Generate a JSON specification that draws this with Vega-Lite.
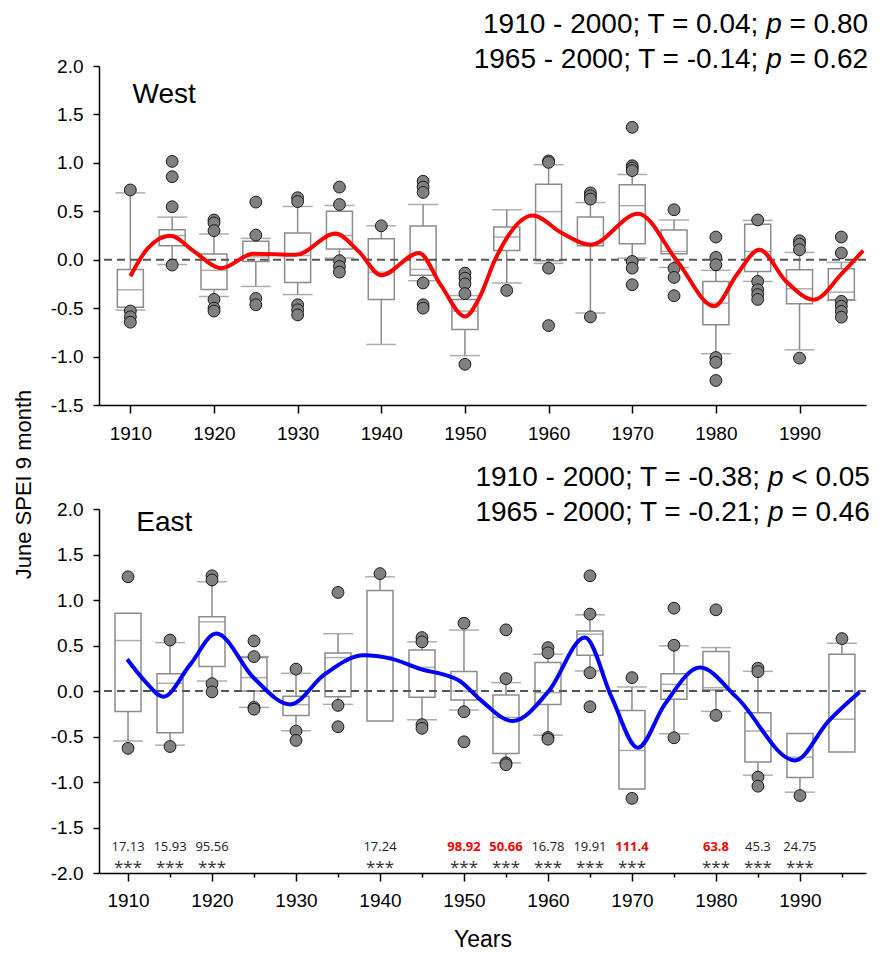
{
  "$schema": "https://vega.github.io/schema/vega-lite/v6.json",
  "padding": {"left": 12, "top": 10, "right": 2, "bottom": 2},
  "spacing": 104,
  "bounds": "flush",
  "config": {
    "view": {"stroke": null},
    "font": "Liberation Sans",
    "axis": {
      "grid": false,
      "domainColor": "#000000",
      "domainWidth": 1.5,
      "tickColor": "#000000",
      "tickWidth": 1.5,
      "labelColor": "#000000",
      "labelFont": "Liberation Sans",
      "labelFontSize": 19,
      "titleFont": "Liberation Sans",
      "titleFontSize": 23,
      "titleFontWeight": "normal",
      "titleColor": "#000000"
    },
    "text": {"font": "Liberation Sans"}
  },
  "datasets": {
    "zero": [{"v": 0}],
    "westBox": [
      {"yr": 1910, "lo": -0.52, "q1": -0.49, "med": -0.31, "q3": -0.10, "hi": 0.69},
      {"yr": 1915, "lo": -0.05, "q1": 0.145, "med": 0.25, "q3": 0.31, "hi": 0.44},
      {"yr": 1920, "lo": -0.38, "q1": -0.307, "med": -0.11, "q3": 0.058, "hi": 0.265},
      {"yr": 1925, "lo": -0.276, "q1": -0.018, "med": 0.03, "q3": 0.19, "hi": 0.22},
      {"yr": 1930, "lo": -0.36, "q1": -0.235, "med": 0.044, "q3": 0.275, "hi": 0.55},
      {"yr": 1935, "lo": 0.017, "q1": 0.11, "med": 0.25, "q3": 0.50, "hi": 0.56},
      {"yr": 1940, "lo": -0.875, "q1": -0.41, "med": -0.128, "q3": 0.217, "hi": 0.35},
      {"yr": 1945, "lo": -0.217, "q1": -0.16, "med": -0.10, "q3": 0.347, "hi": 0.57},
      {"yr": 1950, "lo": -0.99, "q1": -0.72, "med": -0.53, "q3": -0.41, "hi": -0.37},
      {"yr": 1955, "lo": -0.24, "q1": 0.096, "med": 0.234, "q3": 0.337, "hi": 0.516},
      {"yr": 1960, "lo": -0.038, "q1": -0.01, "med": 0.496, "q3": 0.78, "hi": 0.98},
      {"yr": 1965, "lo": -0.55, "q1": 0.145, "med": 0.17, "q3": 0.44, "hi": 0.59},
      {"yr": 1970, "lo": 0.017, "q1": 0.165, "med": 0.558, "q3": 0.775, "hi": 0.88},
      {"yr": 1975, "lo": -0.08, "q1": 0.062, "med": 0.086, "q3": 0.306, "hi": 0.41},
      {"yr": 1980, "lo": -0.97, "q1": -0.672, "med": -0.448, "q3": -0.224, "hi": -0.11},
      {"yr": 1985, "lo": -0.224, "q1": -0.121, "med": 0.086, "q3": 0.365, "hi": 0.406},
      {"yr": 1990, "lo": -0.93, "q1": -0.455, "med": -0.30, "q3": -0.103, "hi": 0.075},
      {"yr": 1995, "lo": -0.42, "q1": -0.413, "med": -0.335, "q3": -0.093, "hi": -0.028}
    ],
    "westPts": [
      {"yr": 1910, "v": 0.72}, {"yr": 1910, "v": -0.53}, {"yr": 1910, "v": -0.59}, {"yr": 1910, "v": -0.645},
      {"yr": 1915, "v": 1.015}, {"yr": 1915, "v": 0.857}, {"yr": 1915, "v": 0.547}, {"yr": 1915, "v": -0.055},
      {"yr": 1920, "v": 0.41}, {"yr": 1920, "v": 0.38}, {"yr": 1920, "v": 0.30}, {"yr": 1920, "v": -0.41}, {"yr": 1920, "v": -0.50}, {"yr": 1920, "v": -0.53},
      {"yr": 1925, "v": 0.595}, {"yr": 1925, "v": 0.254}, {"yr": 1925, "v": -0.40}, {"yr": 1925, "v": -0.465},
      {"yr": 1930, "v": 0.64}, {"yr": 1930, "v": 0.60}, {"yr": 1930, "v": -0.465}, {"yr": 1930, "v": -0.517}, {"yr": 1930, "v": -0.57},
      {"yr": 1935, "v": 0.75}, {"yr": 1935, "v": 0.57}, {"yr": 1935, "v": -0.01}, {"yr": 1935, "v": -0.07}, {"yr": 1935, "v": -0.128},
      {"yr": 1940, "v": 0.35},
      {"yr": 1945, "v": 0.81}, {"yr": 1945, "v": 0.75}, {"yr": 1945, "v": 0.695}, {"yr": 1945, "v": -0.24}, {"yr": 1945, "v": -0.465}, {"yr": 1945, "v": -0.50},
      {"yr": 1950, "v": -0.138}, {"yr": 1950, "v": -0.19}, {"yr": 1950, "v": -0.25}, {"yr": 1950, "v": -0.35}, {"yr": 1950, "v": -1.08},
      {"yr": 1955, "v": -0.317},
      {"yr": 1960, "v": 1.02}, {"yr": 1960, "v": 1.005}, {"yr": 1960, "v": -0.087}, {"yr": 1960, "v": -0.68},
      {"yr": 1965, "v": 0.69}, {"yr": 1965, "v": 0.66}, {"yr": 1965, "v": 0.626}, {"yr": 1965, "v": -0.59},
      {"yr": 1970, "v": 1.367}, {"yr": 1970, "v": 0.97}, {"yr": 1970, "v": 0.946}, {"yr": 1970, "v": 0.92}, {"yr": 1970, "v": -0.018}, {"yr": 1970, "v": -0.087}, {"yr": 1970, "v": -0.258},
      {"yr": 1975, "v": 0.516}, {"yr": 1975, "v": -0.09}, {"yr": 1975, "v": -0.183}, {"yr": 1975, "v": -0.372},
      {"yr": 1980, "v": 0.234}, {"yr": 1980, "v": 0.024}, {"yr": 1980, "v": -0.052}, {"yr": 1980, "v": -1.01}, {"yr": 1980, "v": -1.06}, {"yr": 1980, "v": -1.247},
      {"yr": 1985, "v": 0.41}, {"yr": 1985, "v": -0.224}, {"yr": 1985, "v": -0.31}, {"yr": 1985, "v": -0.36}, {"yr": 1985, "v": -0.41},
      {"yr": 1990, "v": 0.196}, {"yr": 1990, "v": 0.16}, {"yr": 1990, "v": 0.103}, {"yr": 1990, "v": -1.016},
      {"yr": 1995, "v": 0.234}, {"yr": 1995, "v": 0.07}, {"yr": 1995, "v": -0.43}, {"yr": 1995, "v": -0.48}, {"yr": 1995, "v": -0.534}, {"yr": 1995, "v": -0.593}
    ],
    "westCurve": [
      {"yr": 1910.0, "v": -0.17}, {"yr": 1912.1, "v": 0.12}, {"yr": 1914.8, "v": 0.247},
      {"yr": 1917.6, "v": 0.086}, {"yr": 1920.9, "v": -0.087}, {"yr": 1924.7, "v": 0.062},
      {"yr": 1929.8, "v": 0.05}, {"yr": 1934.5, "v": 0.27}, {"yr": 1937.3, "v": 0.086},
      {"yr": 1940.0, "v": -0.16}, {"yr": 1944.5, "v": 0.07}, {"yr": 1947.1, "v": -0.26},
      {"yr": 1950.0, "v": -0.586}, {"yr": 1951.8, "v": -0.38}, {"yr": 1953.6, "v": 0.0},
      {"yr": 1958.1, "v": 0.457}, {"yr": 1961.6, "v": 0.275}, {"yr": 1965.0, "v": 0.155},
      {"yr": 1970.7, "v": 0.475}, {"yr": 1975.4, "v": -0.018}, {"yr": 1979.8, "v": -0.48},
      {"yr": 1982.5, "v": -0.155}, {"yr": 1985.2, "v": 0.103}, {"yr": 1988.4, "v": -0.224},
      {"yr": 1991.7, "v": -0.413}, {"yr": 1995.1, "v": -0.138}, {"yr": 1997.6, "v": 0.093}
    ],
    "westHead": [
      {"yr": 1998.2, "v": 2.341, "a": "1910 - 2000; T = 0.04;", "c": "= 0.80"},
      {"yr": 1998.2, "v": 1.979, "a": "1965 - 2000; T = -0.14;", "c": "= 0.62"}
    ],
    "westLab": [{"yr": 1910.27, "v": 1.615, "t": "West"}],
    "eastBox": [
      {"yr": 1910, "lo": -0.55, "q1": -0.224, "med": 0.554, "q3": 0.855, "hi": 0.855},
      {"yr": 1915, "lo": -0.595, "q1": -0.46, "med": 0.085, "q3": 0.19, "hi": 0.532},
      {"yr": 1920, "lo": 0.11, "q1": 0.27, "med": 0.76, "q3": 0.815, "hi": 1.2},
      {"yr": 1925, "lo": -0.18, "q1": 0.0, "med": 0.147, "q3": 0.367, "hi": 0.378},
      {"yr": 1930, "lo": -0.437, "q1": -0.268, "med": -0.15, "q3": -0.059, "hi": 0.194},
      {"yr": 1935, "lo": -0.147, "q1": -0.062, "med": 0.367, "q3": 0.418, "hi": 0.63},
      {"yr": 1940, "lo": -0.33, "q1": -0.33, "med": 0.38, "q3": 1.105, "hi": 1.255},
      {"yr": 1945, "lo": -0.316, "q1": -0.07, "med": 0.26, "q3": 0.45, "hi": 0.54},
      {"yr": 1950, "lo": -0.209, "q1": -0.1, "med": 0.0, "q3": 0.213, "hi": 0.67},
      {"yr": 1955, "lo": -0.79, "q1": -0.686, "med": -0.29, "q3": -0.044, "hi": 0.092},
      {"yr": 1960, "lo": -0.485, "q1": -0.147, "med": -0.018, "q3": 0.312, "hi": 0.404},
      {"yr": 1965, "lo": 0.22, "q1": 0.393, "med": 0.624, "q3": 0.66, "hi": 0.837},
      {"yr": 1970, "lo": -1.076, "q1": -1.076, "med": -0.653, "q3": -0.213, "hi": 0.044},
      {"yr": 1975, "lo": -0.47, "q1": -0.092, "med": 0.073, "q3": 0.19, "hi": 0.496},
      {"yr": 1980, "lo": -0.224, "q1": 0.011, "med": 0.037, "q3": 0.433, "hi": 0.477},
      {"yr": 1985, "lo": -0.925, "q1": -0.78, "med": -0.44, "q3": -0.239, "hi": 0.216},
      {"yr": 1990, "lo": -1.112, "q1": -0.95, "med": -0.727, "q3": -0.466, "hi": -0.466},
      {"yr": 1995, "lo": -0.67, "q1": -0.67, "med": -0.31, "q3": 0.405, "hi": 0.525}
    ],
    "eastPts": [
      {"yr": 1910, "v": 1.255}, {"yr": 1910, "v": -0.63},
      {"yr": 1915, "v": 0.56}, {"yr": 1915, "v": -0.61},
      {"yr": 1920, "v": 1.266}, {"yr": 1920, "v": 1.22}, {"yr": 1920, "v": 0.08}, {"yr": 1920, "v": -0.01},
      {"yr": 1925, "v": 0.55}, {"yr": 1925, "v": 0.378}, {"yr": 1925, "v": -0.18}, {"yr": 1925, "v": -0.2},
      {"yr": 1930, "v": 0.24}, {"yr": 1930, "v": -0.44}, {"yr": 1930, "v": -0.543},
      {"yr": 1935, "v": 1.083}, {"yr": 1935, "v": -0.158}, {"yr": 1935, "v": -0.393},
      {"yr": 1940, "v": 1.29},
      {"yr": 1945, "v": 0.587}, {"yr": 1945, "v": 0.54}, {"yr": 1945, "v": -0.37}, {"yr": 1945, "v": -0.41},
      {"yr": 1950, "v": 0.745}, {"yr": 1950, "v": -0.228}, {"yr": 1950, "v": -0.558},
      {"yr": 1955, "v": 0.672}, {"yr": 1955, "v": 0.136}, {"yr": 1955, "v": -0.79}, {"yr": 1955, "v": -0.81},
      {"yr": 1960, "v": 0.477}, {"yr": 1960, "v": 0.42}, {"yr": 1960, "v": -0.51}, {"yr": 1960, "v": -0.53},
      {"yr": 1965, "v": 1.266}, {"yr": 1965, "v": 0.845}, {"yr": 1965, "v": 0.2}, {"yr": 1965, "v": -0.173},
      {"yr": 1970, "v": 0.147}, {"yr": 1970, "v": -1.18},
      {"yr": 1975, "v": 0.91}, {"yr": 1975, "v": 0.503}, {"yr": 1975, "v": -0.514},
      {"yr": 1980, "v": 0.892}, {"yr": 1980, "v": -0.268},
      {"yr": 1985, "v": 0.25}, {"yr": 1985, "v": 0.213}, {"yr": 1985, "v": -0.947}, {"yr": 1985, "v": -1.046},
      {"yr": 1990, "v": -1.149},
      {"yr": 1995, "v": 0.576}
    ],
    "eastCurve": [
      {"yr": 1909.9, "v": 0.349}, {"yr": 1911.9, "v": 0.12}, {"yr": 1914.2, "v": -0.062},
      {"yr": 1917.4, "v": 0.29}, {"yr": 1920.5, "v": 0.631}, {"yr": 1925.0, "v": 0.14},
      {"yr": 1929.3, "v": -0.147}, {"yr": 1933.4, "v": 0.183}, {"yr": 1938.1, "v": 0.393},
      {"yr": 1941.3, "v": 0.356}, {"yr": 1945.2, "v": 0.231}, {"yr": 1947.5, "v": 0.183},
      {"yr": 1949.5, "v": 0.11}, {"yr": 1951.9, "v": -0.092}, {"yr": 1955.8, "v": -0.33},
      {"yr": 1960.1, "v": 0.0}, {"yr": 1964.4, "v": 0.587}, {"yr": 1967.6, "v": -0.073},
      {"yr": 1970.7, "v": -0.624}, {"yr": 1973.9, "v": -0.147}, {"yr": 1978.1, "v": 0.257},
      {"yr": 1982.5, "v": -0.073}, {"yr": 1989.4, "v": -0.763}, {"yr": 1993.4, "v": -0.33},
      {"yr": 1997.1, "v": -0.011}
    ],
    "eastHead": [
      {"yr": 1998.33, "v": 2.258, "a": "1910 - 2000; T = -0.38;", "c": "< 0.05"},
      {"yr": 1998.33, "v": 1.872, "a": "1965 - 2000; T = -0.21;", "c": "= 0.46"}
    ],
    "eastLab": [{"yr": 1910.98, "v": 1.754, "t": "East"}],
    "eastAnn": [
      {"yr": 1910, "t": "17.13", "red": false},
      {"yr": 1915, "t": "15.93", "red": false},
      {"yr": 1920, "t": "95.56", "red": false},
      {"yr": 1940, "t": "17.24", "red": false},
      {"yr": 1950, "t": "98.92", "red": true},
      {"yr": 1955, "t": "50.66", "red": true},
      {"yr": 1960, "t": "16.78", "red": false},
      {"yr": 1965, "t": "19.91", "red": false},
      {"yr": 1970, "t": "111.4", "red": true},
      {"yr": 1980, "t": "63.8", "red": true},
      {"yr": 1985, "t": "45.3", "red": false},
      {"yr": 1990, "t": "24.75", "red": false}
    ]
  },
  "vconcat": [
    {
      "width": 767,
      "height": 339,
      "resolve": {"axis": {"x": "independent", "y": "independent"}},
      "layer": [
        {
          "data": {"name": "westBox"},
          "mark": {"type": "rule", "color": "#8c8c8c", "strokeWidth": 1.5},
          "encoding": {
            "x": {"field": "yr", "type": "quantitative",
              "scale": {"domain": [1906.85, 1997.35], "nice": false, "zero": false},
              "axis": {"orient": "bottom", "values": [1910, 1920, 1930, 1940, 1950, 1960, 1970, 1980, 1990], "format": "d", "tickSize": 8, "labelPadding": 11, "title": null}},
            "y": {"field": "lo", "type": "quantitative",
              "scale": {"domain": [-1.5, 2.0], "nice": false, "zero": false},
              "axis": {"orient": "left", "values": [-1.5, -1.0, -0.5, 0, 0.5, 1.0, 1.5, 2.0], "format": ".1f", "labelExpr": "replace(datum.label, '\u2212', '-')", "tickSize": 6, "labelPadding": 10, "title": null}},
            "y2": {"field": "hi"}
          }
        },
        {
          "data": {"name": "westBox"},
          "mark": {"type": "bar", "width": 26, "fill": "#ffffff", "stroke": "#8c8c8c", "strokeWidth": 1.5},
          "encoding": {
            "x": {"field": "yr", "type": "quantitative", "axis": null},
            "y": {"field": "q1", "type": "quantitative", "axis": null},
            "y2": {"field": "q3"}
          }
        },
        {
          "data": {"name": "westBox"},
          "mark": {"type": "tick", "orient": "horizontal", "size": 26, "thickness": 1.5, "color": "#8c8c8c"},
          "encoding": {
            "x": {"field": "yr", "type": "quantitative", "axis": null},
            "y": {"field": "med", "type": "quantitative", "axis": null}
          }
        },
        {
          "data": {"name": "westBox"},
          "transform": [
            {"fold": ["lo", "hi"], "as": ["k", "w"]},
            {"filter": "(datum.k == 'lo' && datum.w < datum.q1) || (datum.k == 'hi' && datum.w > datum.q3)"}
          ],
          "mark": {"type": "tick", "orient": "horizontal", "size": 30, "thickness": 1.5, "color": "#8c8c8c"},
          "encoding": {
            "x": {"field": "yr", "type": "quantitative", "axis": null},
            "y": {"field": "w", "type": "quantitative", "axis": null}
          }
        },
        {
          "data": {"name": "zero"},
          "mark": {"type": "rule", "color": "#555555", "strokeWidth": 2, "strokeDash": [8, 5]},
          "encoding": {"y": {"field": "v", "type": "quantitative", "axis": null}}
        },
        {
          "data": {"name": "westPts"},
          "mark": {"type": "circle", "fill": "#808080", "stroke": "#1a1a1a", "strokeWidth": 1, "size": 140, "opacity": 1},
          "encoding": {
            "x": {"field": "yr", "type": "quantitative", "axis": null},
            "y": {"field": "v", "type": "quantitative", "axis": null}
          }
        },
        {
          "data": {"name": "westCurve"},
          "mark": {"type": "line", "interpolate": "monotone", "color": "#ff0000", "strokeWidth": 4},
          "encoding": {
            "x": {"field": "yr", "type": "quantitative", "axis": null},
            "y": {"field": "v", "type": "quantitative", "axis": null}
          }
        },
        {
          "data": {"name": "westLab"},
          "mark": {"type": "text", "align": "left", "baseline": "alphabetic", "fontSize": 28, "color": "#000000"},
          "encoding": {
            "x": {"field": "yr", "type": "quantitative", "axis": null},
            "y": {"field": "v", "type": "quantitative", "axis": null},
            "text": {"field": "t"}
          }
        },
        {
          "data": {"name": "westHead"},
          "mark": {"type": "text", "align": "right", "baseline": "alphabetic", "fontSize": 28, "color": "#000000", "dx": -109.8},
          "encoding": {
            "x": {"field": "yr", "type": "quantitative", "axis": null},
            "y": {"field": "v", "type": "quantitative", "axis": null},
            "text": {"field": "a"}
          }
        },
        {
          "data": {"name": "westHead"},
          "mark": {"type": "text", "align": "right", "baseline": "alphabetic", "fontSize": 28, "fontStyle": "italic", "color": "#000000", "dx": -86.4},
          "encoding": {
            "x": {"field": "yr", "type": "quantitative", "axis": null},
            "y": {"field": "v", "type": "quantitative", "axis": null},
            "text": {"value": "p"}
          }
        },
        {
          "data": {"name": "westHead"},
          "mark": {"type": "text", "align": "right", "baseline": "alphabetic", "fontSize": 28, "color": "#000000"},
          "encoding": {
            "x": {"field": "yr", "type": "quantitative", "axis": null},
            "y": {"field": "v", "type": "quantitative", "axis": null},
            "text": {"field": "c"}
          }
        }
      ]
    },
    {
      "width": 767,
      "height": 364,
      "resolve": {"axis": {"x": "independent", "y": "independent"}},
      "layer": [
        {
          "data": {"name": "eastBox"},
          "mark": {"type": "rule", "color": "#8c8c8c", "strokeWidth": 1.5},
          "encoding": {
            "x": {"field": "yr", "type": "quantitative",
              "scale": {"domain": [1907.14, 1997.27], "nice": false, "zero": false},
              "axis": {"values": [1910, 1920, 1930, 1940, 1950, 1960, 1970, 1980, 1990], "format": "d", "tickSize": 8, "labelPadding": 10, "title": "Years", "titlePadding": 18, "orient": "bottom"}},
            "y": {"field": "lo", "type": "quantitative",
              "scale": {"domain": [-2.0, 2.0], "nice": false, "zero": false},
              "axis": {"orient": "left", "values": [-2.0, -1.5, -1.0, -0.5, 0, 0.5, 1.0, 1.5, 2.0], "format": ".1f", "labelExpr": "replace(datum.label, '\u2212', '-')", "tickSize": 6, "labelPadding": 10,
                "title": "June SPEI 9 month", "titleFontSize": 22, "titleX": -76, "titleY": -25, "titleAngle": -90, "titleAlign": "center", "titleBaseline": "middle"}},
            "y2": {"field": "hi"}
          }
        },
        {
          "data": {"name": "eastBox"},
          "mark": {"type": "bar", "width": 26, "fill": "#ffffff", "stroke": "#8c8c8c", "strokeWidth": 1.5},
          "encoding": {
            "x": {"field": "yr", "type": "quantitative", "axis": null},
            "y": {"field": "q1", "type": "quantitative", "axis": null},
            "y2": {"field": "q3"}
          }
        },
        {
          "data": {"name": "eastBox"},
          "mark": {"type": "tick", "orient": "horizontal", "size": 26, "thickness": 1.5, "color": "#8c8c8c"},
          "encoding": {
            "x": {"field": "yr", "type": "quantitative", "axis": null},
            "y": {"field": "med", "type": "quantitative", "axis": null}
          }
        },
        {
          "data": {"name": "eastBox"},
          "transform": [
            {"fold": ["lo", "hi"], "as": ["k", "w"]},
            {"filter": "(datum.k == 'lo' && datum.w < datum.q1) || (datum.k == 'hi' && datum.w > datum.q3)"}
          ],
          "mark": {"type": "tick", "orient": "horizontal", "size": 30, "thickness": 1.5, "color": "#8c8c8c"},
          "encoding": {
            "x": {"field": "yr", "type": "quantitative", "axis": null},
            "y": {"field": "w", "type": "quantitative", "axis": null}
          }
        },
        {
          "data": {"name": "zero"},
          "mark": {"type": "rule", "color": "#555555", "strokeWidth": 2, "strokeDash": [8, 5]},
          "encoding": {"y": {"field": "v", "type": "quantitative", "axis": null}}
        },
        {
          "data": {"name": "eastPts"},
          "mark": {"type": "circle", "fill": "#808080", "stroke": "#1a1a1a", "strokeWidth": 1, "size": 140, "opacity": 1},
          "encoding": {
            "x": {"field": "yr", "type": "quantitative", "axis": null},
            "y": {"field": "v", "type": "quantitative", "axis": null}
          }
        },
        {
          "data": {"name": "eastCurve"},
          "mark": {"type": "line", "interpolate": "monotone", "color": "#0000ff", "strokeWidth": 4},
          "encoding": {
            "x": {"field": "yr", "type": "quantitative", "axis": null},
            "y": {"field": "v", "type": "quantitative", "axis": null}
          }
        },
        {
          "data": {"name": "eastAnn"},
          "transform": [{"filter": "!datum.red"}],
          "mark": {"type": "text", "align": "center", "baseline": "alphabetic", "font": "Open Sans", "fontSize": 13, "color": "#222222"},
          "encoding": {
            "x": {"field": "yr", "type": "quantitative", "axis": null},
            "y": {"datum": -1.758, "type": "quantitative", "axis": null},
            "text": {"field": "t"}
          }
        },
        {
          "data": {"name": "eastAnn"},
          "transform": [{"filter": "datum.red"}],
          "mark": {"type": "text", "align": "center", "baseline": "alphabetic", "font": "Open Sans", "fontSize": 13, "fontWeight": "bold", "color": "#ff0000"},
          "encoding": {
            "x": {"field": "yr", "type": "quantitative", "axis": null},
            "y": {"datum": -1.758, "type": "quantitative", "axis": null},
            "text": {"field": "t"}
          }
        },
        {
          "data": {"name": "eastAnn"},
          "mark": {"type": "text", "align": "center", "baseline": "alphabetic", "font": "Open Sans", "fontSize": 17, "color": "#333333"},
          "encoding": {
            "x": {"field": "yr", "type": "quantitative",
              "axis": {"values": [1915, 1925, 1935, 1945, 1955, 1965, 1975, 1985, 1995], "labels": false, "domain": false, "tickSize": 4, "title": null, "orient": "bottom"}},
            "y": {"datum": -2.0, "type": "quantitative", "axis": null},
            "text": {"value": "***"}
          }
        },
        {
          "data": {"name": "eastLab"},
          "mark": {"type": "text", "align": "left", "baseline": "alphabetic", "fontSize": 28, "color": "#000000"},
          "encoding": {
            "x": {"field": "yr", "type": "quantitative", "axis": null},
            "y": {"field": "v", "type": "quantitative", "axis": null},
            "text": {"field": "t"}
          }
        },
        {
          "data": {"name": "eastHead"},
          "mark": {"type": "text", "align": "right", "baseline": "alphabetic", "fontSize": 28, "color": "#000000", "dx": -109.8},
          "encoding": {
            "x": {"field": "yr", "type": "quantitative", "axis": null},
            "y": {"field": "v", "type": "quantitative", "axis": null},
            "text": {"field": "a"}
          }
        },
        {
          "data": {"name": "eastHead"},
          "mark": {"type": "text", "align": "right", "baseline": "alphabetic", "fontSize": 28, "fontStyle": "italic", "color": "#000000", "dx": -86.4},
          "encoding": {
            "x": {"field": "yr", "type": "quantitative", "axis": null},
            "y": {"field": "v", "type": "quantitative", "axis": null},
            "text": {"value": "p"}
          }
        },
        {
          "data": {"name": "eastHead"},
          "mark": {"type": "text", "align": "right", "baseline": "alphabetic", "fontSize": 28, "color": "#000000"},
          "encoding": {
            "x": {"field": "yr", "type": "quantitative", "axis": null},
            "y": {"field": "v", "type": "quantitative", "axis": null},
            "text": {"field": "c"}
          }
        }
      ]
    }
  ]
}
